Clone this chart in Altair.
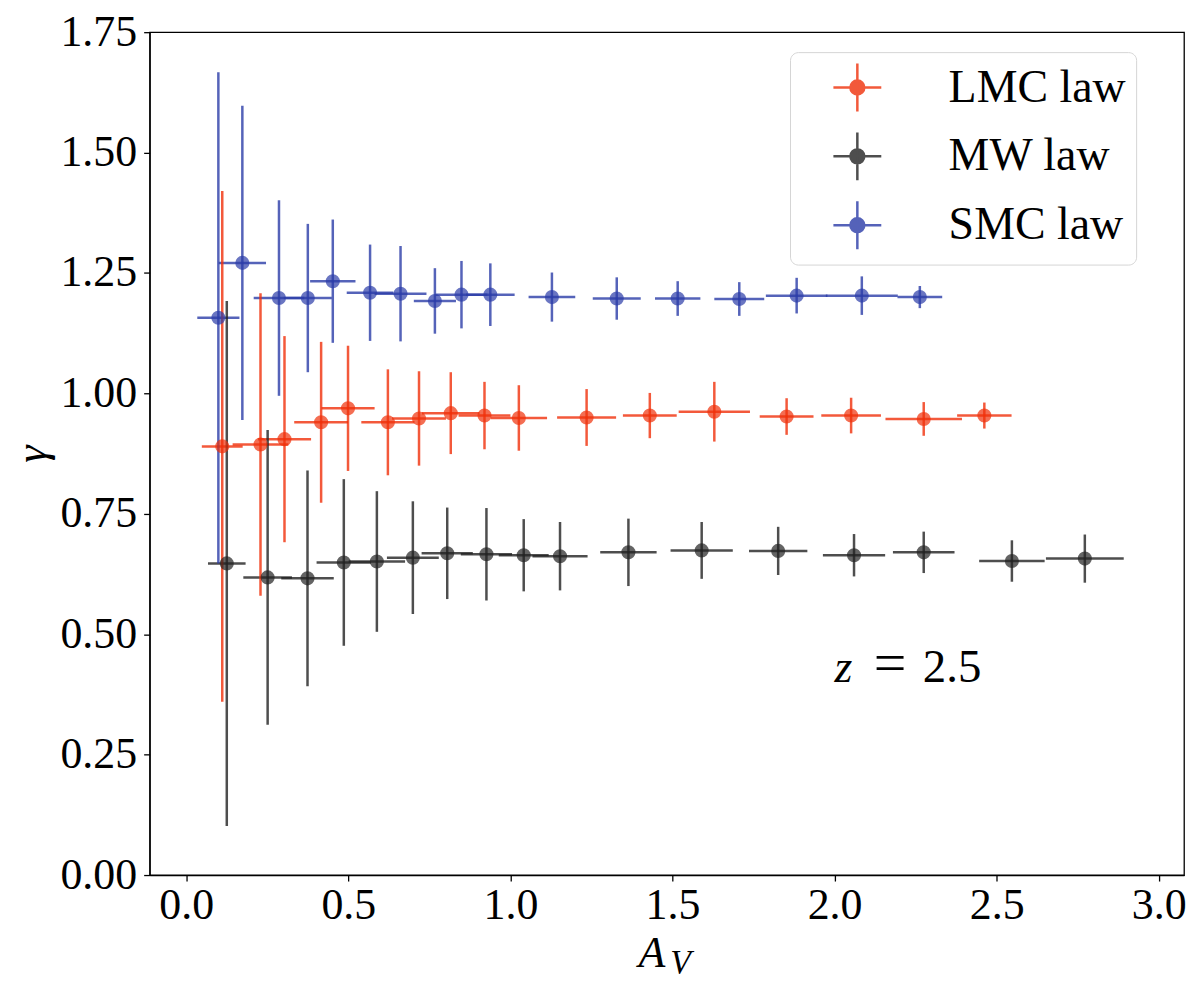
import altair as alt
import pandas as pd

# A_V bins and gamma values (z = 2.5)
lmc_av = [0.111, 0.229, 0.303, 0.416, 0.499, 0.622, 0.718, 0.816, 0.920, 1.026,
          1.235, 1.430, 1.629, 1.852, 2.051, 2.275, 2.462]
lmc_av_err = [0.063, 0.086, 0.082, 0.083, 0.082, 0.082, 0.083, 0.089, 0.080, 0.087,
              0.091, 0.083, 0.110, 0.083, 0.092, 0.118, 0.084]
lmc_gamma = [0.890, 0.894, 0.905, 0.940, 0.969, 0.940, 0.948, 0.959, 0.954, 0.949,
             0.950, 0.954, 0.962, 0.952, 0.954, 0.947, 0.954]
lmc_gamma_err = [0.530, 0.314, 0.214, 0.167, 0.130, 0.110, 0.098, 0.085, 0.070, 0.068,
                 0.059, 0.047, 0.062, 0.038, 0.037, 0.035, 0.027]

mw_av = [0.125, 0.251, 0.374, 0.486, 0.588, 0.699, 0.805, 0.926, 1.041, 1.153,
         1.364, 1.590, 1.826, 2.060, 2.275, 2.547, 2.772]
mw_av_err = [0.058, 0.075, 0.081, 0.084, 0.087, 0.080, 0.079, 0.079, 0.077, 0.085,
             0.087, 0.096, 0.090, 0.096, 0.095, 0.101, 0.120]
mw_gamma = [0.647, 0.618, 0.616, 0.649, 0.651, 0.659, 0.668, 0.666, 0.664, 0.662,
            0.670, 0.674, 0.673, 0.664, 0.670, 0.652, 0.657]
mw_gamma_err = [0.545, 0.306, 0.224, 0.173, 0.146, 0.117, 0.095, 0.096, 0.075, 0.071,
                0.070, 0.059, 0.050, 0.044, 0.043, 0.043, 0.050]

smc_av = [0.099, 0.173, 0.286, 0.375, 0.452, 0.567, 0.661, 0.767, 0.849, 0.938,
          1.128, 1.328, 1.516, 1.706, 1.883, 2.084, 2.263]
smc_av_err = [0.065, 0.073, 0.078, 0.074, 0.070, 0.072, 0.080, 0.065, 0.080, 0.075,
              0.072, 0.074, 0.070, 0.077, 0.095, 0.111, 0.069]
smc_gamma = [1.157, 1.271, 1.198, 1.198, 1.233, 1.209, 1.207, 1.192, 1.205, 1.205,
             1.200, 1.197, 1.197, 1.196, 1.203, 1.203, 1.200]
smc_gamma_err = [0.510, 0.326, 0.203, 0.154, 0.128, 0.100, 0.099, 0.068, 0.070, 0.065,
                 0.051, 0.044, 0.036, 0.035, 0.037, 0.040, 0.023]

laws = ["LMC law", "MW law", "SMC law"]
law_colors = ["#f0300a", "#222222", "#2b3ca8"]

x_ticks = [0.0, 0.5, 1.0, 1.5, 2.0, 2.5, 3.0]
y_ticks = [0.0, 0.25, 0.5, 0.75, 1.0, 1.25, 1.5, 1.75]

frames = []
for law, av, ave, g, ge in [
    ("LMC law", lmc_av, lmc_av_err, lmc_gamma, lmc_gamma_err),
    ("MW law", mw_av, mw_av_err, mw_gamma, mw_gamma_err),
    ("SMC law", smc_av, smc_av_err, smc_gamma, smc_gamma_err),
]:
    frames.append(pd.DataFrame({"law": law, "av": av, "av_err": ave,
                                "gamma": g, "gamma_err": ge}))
df = pd.concat(frames, ignore_index=True)
df["av_lo"] = df["av"] - df["av_err"]
df["av_hi"] = df["av"] + df["av_err"]
df["g_lo"] = df["gamma"] - df["gamma_err"]
df["g_hi"] = df["gamma"] + df["gamma_err"]

FONT = "Liberation Serif"
PLOT_H = 845

# errorbar-like legend symbol: a cross with a dot in the middle
cross_dot = ("M-1,0H1M0,-1V1"
             "M0.29,0A0.29,0.29,0,1,1,-0.29,0A0.29,0.29,0,1,1,0.29,0Z")
legend = alt.Legend(
    title=None, orient="none", legendX=642, legendY=20,
    symbolType=cross_dot, symbolSize=2304, symbolStrokeWidth=2.5,
    symbolOffset=32, labelFont=FONT, labelFontSize=46, labelOffset=66,
    labelExpr="datum.label + '  '",
    labelLimit=0, rowPadding=10, padding=10,
    strokeColor="#d5d5d5", fillColor="white", cornerRadius=8,
)
color = alt.Color("law:N", scale=alt.Scale(domain=laws, range=law_colors),
                  legend=legend)

x_scale = alt.Scale(domain=[-0.113, 3.078], nice=False, zero=False)
y_scale = alt.Scale(domain=[0, 1.75], nice=False)

x_enc = alt.X("av:Q", scale=x_scale, axis=alt.Axis(
    values=x_ticks, format=".1f", title="A", titleFontStyle="italic",
    titleX=503, titlePadding=4, labelPadding=3))
y_enc = alt.Y("gamma:Q", scale=y_scale, axis=alt.Axis(
    values=y_ticks, format=".2f", title="γ", titleFontStyle="italic",
    titlePadding=5, labelPadding=7))

base = alt.Chart(df)

h_bars = base.mark_rule(strokeWidth=2.5, opacity=0.8).encode(
    x=alt.X("av_lo:Q", scale=x_scale), x2="av_hi:Q",
    y=alt.Y("gamma:Q", scale=y_scale), color=color)

v_bars = base.mark_rule(strokeWidth=2.5, opacity=0.8).encode(
    x=alt.X("av:Q", scale=x_scale), y=alt.Y("g_lo:Q", scale=y_scale),
    y2="g_hi:Q", color=color)

points = base.mark_circle(size=200, opacity=0.7).encode(
    x=x_enc, y=y_enc, color=color)

# subscript V of the x-axis title (pixels from the top-left of the plot area)
sub_v = alt.Chart(pd.DataFrame({"t": ["V"]})).mark_text(
    font=FONT, fontSize=34, fontStyle="italic", align="left",
    baseline="alphabetic").encode(x=alt.value(522), y=alt.value(PLOT_H + 98),
                                  text="t:N")

# redshift annotation
ann = pd.DataFrame({"av": [2.0, 2.121, 2.272], "gamma": [0.4, 0.4, 0.4],
                    "t": ["z", "=", "2.5"]})
ann_z = alt.Chart(ann.iloc[[0]]).mark_text(
    font=FONT, fontSize=46, fontStyle="italic", align="left",
    baseline="alphabetic").encode(x=alt.X("av:Q", scale=x_scale),
                                  y=alt.Y("gamma:Q", scale=y_scale), text="t:N")
ann_eq = alt.Chart(ann.iloc[[1]]).mark_text(
    font=FONT, fontSize=58, align="left",
    baseline="alphabetic").encode(x=alt.X("av:Q", scale=x_scale),
                                  y=alt.Y("gamma:Q", scale=y_scale), text="t:N")
ann_val = alt.Chart(ann.iloc[[2]]).mark_text(
    font=FONT, fontSize=47, align="left",
    baseline="alphabetic").encode(x=alt.X("av:Q", scale=x_scale),
                                  y=alt.Y("gamma:Q", scale=y_scale), text="t:N")

chart = alt.layer(h_bars, v_bars, points, sub_v, ann_z, ann_eq, ann_val).properties(
    width=1037, height=PLOT_H,
    padding={"left": 3, "top": 1, "right": 5, "bottom": 5},
).configure_view(
    stroke="black", strokeWidth=1.3
).configure_axis(
    grid=False, domainColor="black", domainWidth=1.3,
    tickColor="black", tickWidth=1.3, tickSize=6,
    labelFont=FONT, labelFontSize=44, labelColor="black",
    titleFont=FONT, titleFontSize=44, titleFontWeight="normal", titleColor="black",
)

chart.save("out.html", embed_options={"renderer": "svg", "actions": False})
